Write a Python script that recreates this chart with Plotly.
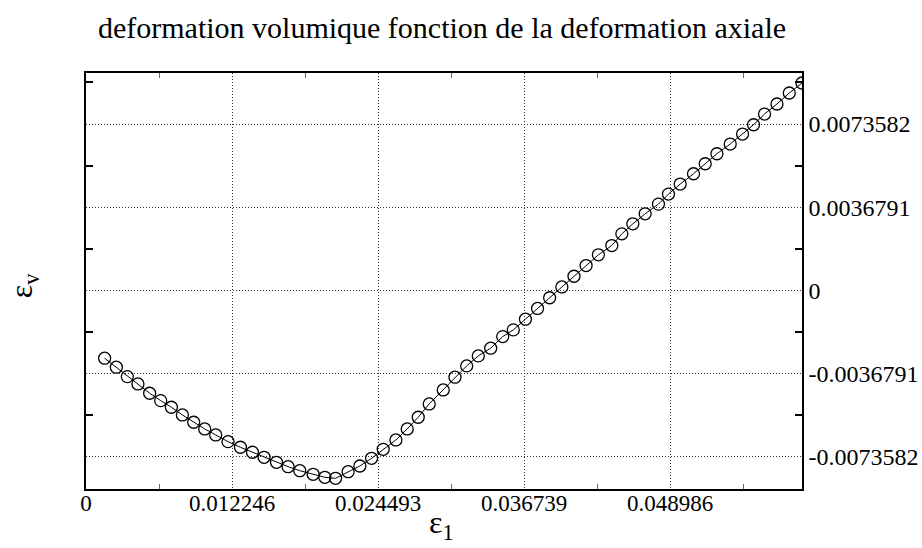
import plotly.graph_objects as go

eps1 = [0.001561, 0.002543, 0.003466, 0.004356, 0.005338, 0.006261, 0.007160, 0.008083,
        0.009031, 0.009955, 0.010878, 0.011910, 0.012951, 0.013958, 0.014932, 0.015973,
        0.016946, 0.017928, 0.019045, 0.020027, 0.020925, 0.021982, 0.022964, 0.023946,
        0.024920, 0.025986, 0.026934, 0.027858, 0.028781, 0.029956, 0.030938, 0.031920,
        0.032894, 0.033934, 0.034941, 0.035831, 0.036847, 0.037863, 0.038878, 0.039902,
        0.040918, 0.041934, 0.042966, 0.044091, 0.044930, 0.045853, 0.046886, 0.048002,
        0.048841, 0.049823, 0.050940, 0.051922, 0.052904, 0.054020, 0.055053, 0.055976,
        0.056899, 0.057940, 0.058972, 0.060038]
epsv = [-0.003002, -0.003400, -0.003816, -0.004140, -0.004551, -0.004879, -0.005171, -0.005512,
        -0.005835, -0.006132, -0.006397, -0.006694, -0.006942, -0.007163, -0.007385, -0.007606,
        -0.007801, -0.007978, -0.008137, -0.008270, -0.008314, -0.008022, -0.007770, -0.007429,
        -0.007031, -0.006619, -0.006132, -0.005614, -0.005025, -0.004405, -0.003843, -0.003343,
        -0.002900, -0.002559, -0.002045, -0.001749, -0.001275, -0.000801, -0.000328, 0.000151,
        0.000624, 0.001098, 0.001572, 0.001983, 0.002501, 0.002944, 0.003387, 0.003816,
        0.004259, 0.004702, 0.005158, 0.005601, 0.006043, 0.006473, 0.006915, 0.007327,
        0.007801, 0.008244, 0.008731, 0.009173]

x_tick_vals = [0, 0.012246, 0.024493, 0.036739, 0.048986]
x_tick_text = ["0", "0.012246", "0.024493", "0.036739", "0.048986"]
y_tick_vals = [-0.0073582, -0.0036791, 0, 0.0036791, 0.0073582]
y_tick_text = ["-0.0073582", "-0.0036791", "0", "0.0036791", "0.0073582"]
x_minor_vals = [0.006123, 0.018369, 0.030616, 0.042862, 0.055109]
y_minor_vals = [-0.0055187, -0.0018396, 0.0018396, 0.0055187, 0.0091978]

x_range = [0, 0.060038]
y_range = [-0.008788, 0.009616]

FONT = "Liberation Serif"

fig = go.Figure(
    go.Scatter(
        x=eps1, y=epsv, mode="lines+markers",
        line=dict(color="black", width=1),
        marker=dict(symbol="circle-open", size=12, color="black",
                    line=dict(width=1.3, color="black")),
        showlegend=False,
    )
)

grid = dict(showgrid=True, gridcolor="#333", gridwidth=1, griddash="1px,2px", zeroline=False)

fig.update_layout(
    width=922, height=548,
    margin=dict(l=86, r=120, t=73, b=59, autoexpand=False),
    paper_bgcolor="white", plot_bgcolor="white",
    font=dict(family=FONT, color="black"),
    title=dict(text="deformation volumique fonction de la deformation axiale",
               x=0.4794, xanchor="center", y=0.949, yanchor="middle",
               font=dict(family=FONT, size=30, color="black")),
    xaxis=dict(
        range=x_range, tickmode="array", tickvals=x_tick_vals, ticktext=x_tick_text,
        ticks="", showline=True, linecolor="black", linewidth=1.5, mirror="allticks",
        automargin=False, ticklabelstandoff=-7,
        tickfont=dict(family=FONT, size=23, color="black"),
        minor=dict(tickmode="array", tickvals=x_minor_vals, ticks="inside",
                   ticklen=5, tickwidth=1, tickcolor="#666", showgrid=False),
        **grid,
    ),
    yaxis=dict(
        range=y_range, side="right", tickmode="array", tickvals=y_tick_vals,
        ticktext=y_tick_text, ticks="", showline=True, linecolor="black",
        linewidth=1.5, mirror="allticks", automargin=False,
        tickfont=dict(family=FONT, size=24, color="black"),
        minor=dict(tickmode="array", tickvals=y_minor_vals, ticks="inside",
                   ticklen=7, tickwidth=1.5, tickcolor="black", showgrid=False),
        **grid,
    ),
    annotations=[
        dict(text="ε<sub>v</sub>", textangle=-90, xref="paper", yref="paper",
             x=-0.088, y=0.49, xanchor="center", yanchor="middle",
             showarrow=False, font=dict(family=FONT, size=32, color="black")),
        dict(text="ε<sub>1</sub>", xref="paper", yref="paper",
             x=0.497, y=-0.086, xanchor="center", yanchor="middle",
             showarrow=False, font=dict(family=FONT, size=32, color="black")),
    ],
)

fig.write_html(
    "out.html",
    config={"displayModeBar": False},
    post_script="document.body.style.margin='0';document.body.style.overflow='hidden';",
)
